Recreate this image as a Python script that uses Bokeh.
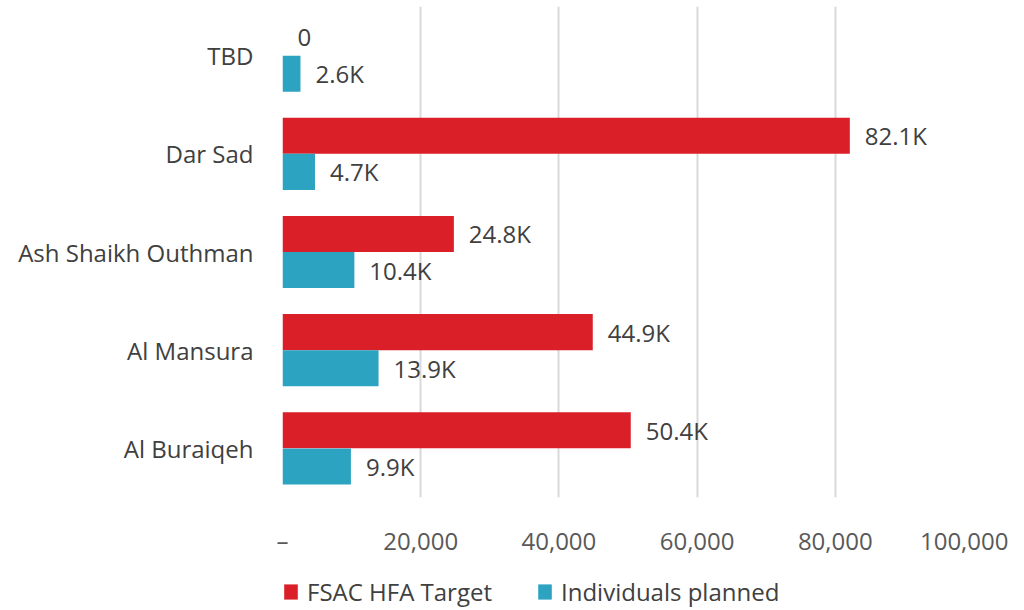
from bokeh.plotting import figure
from bokeh.models import (ColumnDataSource, FactorRange, Range1d, FixedTicker,
                          NumeralTickFormatter, Legend, LegendItem)
from bokeh.layouts import column
from bokeh.transform import dodge
from bokeh.embed import file_html
from bokeh.resources import INLINE
from bokeh.core.properties import value

categories = ["TBD", "Dar Sad", "Ash Shaikh Outhman", "Al Mansura", "Al Buraiqeh"]
target = [0, 82100, 24800, 44900, 50400]
planned = [2600, 4700, 10400, 13900, 9900]
target_labels = ["0", "82.1K", "24.8K", "44.9K", "50.4K"]
planned_labels = ["2.6K", "4.7K", "10.4K", "13.9K", "9.9K"]
x_ticks = [0, 20000, 40000, 60000, 80000, 100000]
series_names = ["FSAC HFA Target", "Individuals planned"]

FONT = "Open Sans"
FS = "24px"
RED = "#DA1F28"
BLUE = "#2CA3C1"
TXT = "#404040"

src = ColumnDataSource(dict(cat=categories, target=target, planned=planned,
                            tl=target_labels, pl=planned_labels))

p = figure(width=1008, height=568, output_backend="svg", toolbar_location=None,
           y_range=FactorRange(*categories[::-1], range_padding=0),
           x_range=Range1d(0, 100000),
           min_border_left=282, min_border_right=35, min_border_top=6,
           min_border_bottom=71)
p.outline_line_color = None

p.hbar(y=dodge("cat", 0.184, range=p.y_range), right="target", left=0,
       height=0.367, fill_color=RED, line_color=None, source=src)
p.hbar(y=dodge("cat", -0.184, range=p.y_range), right="planned", left=0,
       height=0.367, fill_color=BLUE, line_color=None, source=src)

p.text(x="target", y=dodge("cat", 0.184, range=p.y_range), text="tl", source=src,
       x_offset=15, text_baseline="middle", text_align="left",
       text_font=value(FONT), text_font_size=FS, text_color=TXT)
p.text(x="planned", y=dodge("cat", -0.184, range=p.y_range), text="pl", source=src,
       x_offset=15, text_baseline="middle", text_align="left",
       text_font=value(FONT), text_font_size=FS, text_color=TXT)

p.ygrid.grid_line_color = None
p.xgrid.grid_line_color = "#d9d9d9"
p.xgrid.grid_line_width = 2
p.xaxis.ticker = FixedTicker(ticks=x_ticks)
p.xaxis.formatter = NumeralTickFormatter(format="0,0")
p.xaxis.major_label_overrides = {0: "–"}
p.xaxis.axis_line_color = None
p.xaxis.major_tick_line_color = None
p.xaxis.minor_tick_line_color = None
p.xaxis.major_tick_out = 0
p.xaxis.major_tick_in = 0
p.xaxis.major_label_standoff = 26
p.xaxis.major_label_text_font = FONT
p.xaxis.major_label_text_font_size = FS
p.xaxis.major_label_text_color = "#595959"

p.yaxis.axis_line_color = None
p.yaxis.major_tick_line_color = None
p.yaxis.minor_tick_line_color = None
p.yaxis.major_tick_out = 0
p.yaxis.major_tick_in = 0
p.yaxis.major_label_standoff = 29
p.yaxis.major_label_text_font = FONT
p.yaxis.major_label_text_font_size = FS
p.yaxis.major_label_text_color = TXT

# legend strip (separate figure so it is not clipped by the main frame)
lg = figure(width=1008, height=40, output_backend="svg", toolbar_location=None,
            x_range=Range1d(0, 1), y_range=Range1d(0, 1),
            min_border=0)
lg.axis.visible = False
lg.grid.visible = False
lg.outline_line_color = None
# off-screen swatch renderers, only used to draw the legend keys
lr1 = lg.hbar(y=[-5], right=[-5], left=[-6], height=0.1, fill_color=RED, line_color=None)
lr2 = lg.hbar(y=[-5], right=[-5], left=[-6], height=0.1, fill_color=BLUE, line_color=None)
legend = Legend(items=[LegendItem(label=series_names[0], renderers=[lr1]),
                       LegendItem(label=series_names[1], renderers=[lr2])],
                orientation="horizontal", location=(0, 0),
                label_text_font=FONT, label_text_font_size=FS,
                label_text_color=TXT, glyph_width=17, glyph_height=19,
                spacing=44, label_standoff=8, padding=0, margin=0,
                border_line_color=None, background_fill_alpha=0)
lg.add_layout(legend)

open("out.html", "w").write(file_html(column(p, lg, spacing=0), INLINE))
